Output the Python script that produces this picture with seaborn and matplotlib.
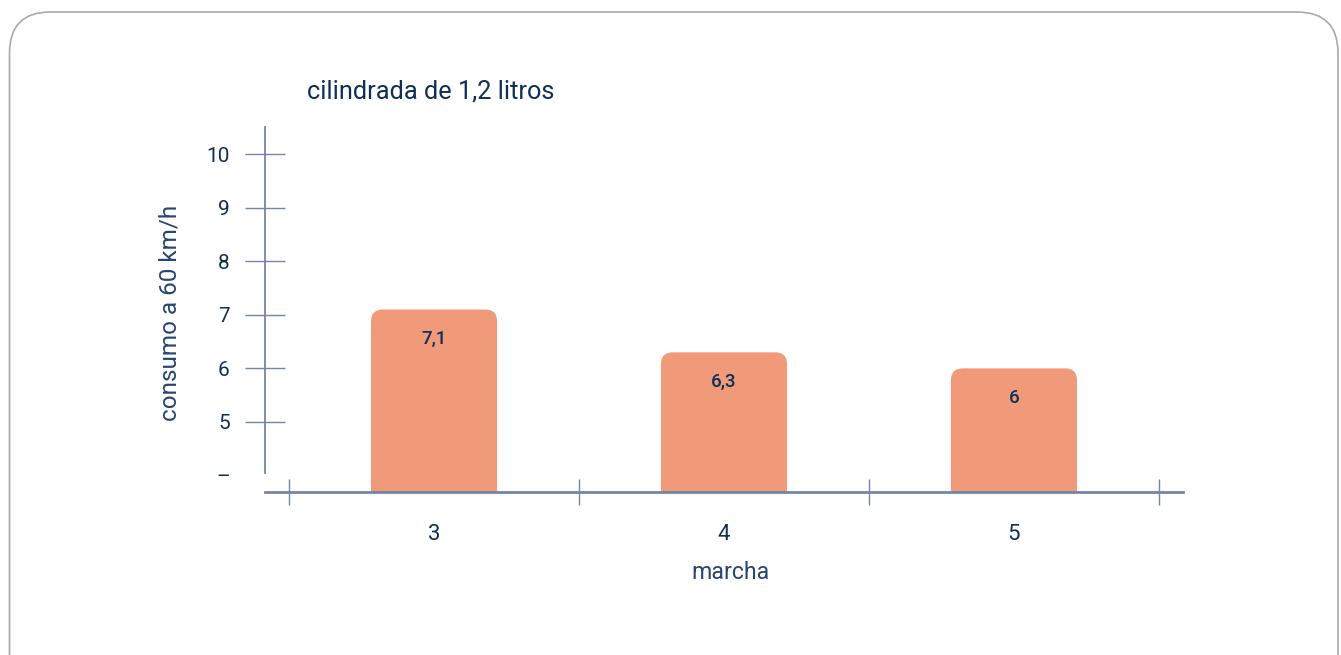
import matplotlib
matplotlib.use("Agg")
import matplotlib.pyplot as plt
from matplotlib.patches import FancyBboxPatch
from matplotlib.ticker import FixedLocator
import seaborn as sns
import pandas as pd

# data
gears = ["3", "4", "5"]
consumption = [7.1, 6.3, 6.0]
ytick_values = [4, 5, 6, 7, 8, 9, 10]
ytick_labels = ["–", "5", "6", "7", "8", "9", "10"]
title = "cilindrada de 1,2 litros"
xlabel = "marcha"
ylabel = "consumo a 60 km/h"

NAVY = "#0e2f56"
AXIS = "#7186a6"
BAR = "#f19a7a"
BORDER = "#a6aab1"
LABEL = "#27466f"

sns.set_theme(style="white")
plt.rcParams["font.family"] = ["Roboto", "DejaVu Sans"]

df = pd.DataFrame({"marcha": gears, "consumo": consumption})

fig = plt.figure(figsize=(13.41, 6.55), dpi=100)
ax = fig.add_axes([265 / 1341, 163 / 655, (1183 - 265) / 1341, (492 - 127) / 655])

sns.barplot(data=df, x="marcha", y="consumo", color=BAR, width=0.435,
            saturation=1, ax=ax, zorder=2)

ax.set_xlim(-0.583, 2.583)
ax.set_ylim(3.69, 10.51)

# rounded tops for bars
px_per_x = (1183 - 265) / (2.583 + 0.583)
px_per_y = (492 - 127) / (10.51 - 3.69)
aspect = px_per_x / px_per_y
r = 12 / px_per_x
for p in list(ax.patches):
    x, y = p.get_x(), p.get_y()
    w, h = p.get_width(), p.get_height()
    fb = FancyBboxPatch((x, y), w, h,
                        boxstyle=f"round,pad=0,rounding_size={r}",
                        mutation_aspect=aspect, facecolor=BAR, edgecolor="none",
                        zorder=2)
    ax.add_patch(fb)
    p.set_visible(False)
    lab = f"{h:g}".replace(".", ",")
    ax.annotate(lab, (x + w / 2, y + h), xytext=(0, -21), textcoords="offset points",
                ha="center", va="center", fontsize=13.5, color=NAVY, fontweight="medium")

# spines
for s in ["top", "right"]:
    ax.spines[s].set_visible(False)
ax.spines["left"].set_color(AXIS)
ax.spines["left"].set_linewidth(1.3)
ax.spines["left"].set_bounds(4.05, 10.51)
ax.spines["bottom"].set_color(AXIS)
ax.spines["bottom"].set_linewidth(2)

# y ticks
ax.set_yticks(ytick_values)
ax.set_yticklabels(ytick_labels)
ax.tick_params(axis="y", direction="inout", length=28.8, width=1, color=AXIS,
               labelsize=15, labelcolor=NAVY, pad=11, left=True)
ax.yaxis.get_major_ticks()[0].tick1line.set_visible(False)

# x ticks
ax.tick_params(axis="x", which="major", length=0, labelsize=16, labelcolor=NAVY, pad=23)
ax.xaxis.set_minor_locator(FixedLocator([-0.5, 0.5, 1.5, 2.5]))
ax.tick_params(axis="x", which="minor", direction="inout", length=19.4, width=1,
               color=AXIS, bottom=True)

ax.set_xlabel(xlabel, fontsize=16.7, color=LABEL)
ax.xaxis.set_label_coords(0.5076, -0.19)
ax.set_ylabel(ylabel, fontsize=17.5, color=LABEL)
ax.yaxis.set_label_coords(-0.0915, 0.49)

fig.text(307 / 1341, 1 - 91 / 655, title, fontsize=18.3, color=NAVY, ha="left", va="center")

# rounded border
border = FancyBboxPatch((0.095, -0.5), 13.285, 6.93,
                        boxstyle="round,pad=0,rounding_size=0.41",
                        transform=fig.dpi_scale_trans, facecolor="none",
                        edgecolor=BORDER, linewidth=1.2, zorder=0)
fig.patches.append(border)

fig.savefig("out.png", dpi=100)
